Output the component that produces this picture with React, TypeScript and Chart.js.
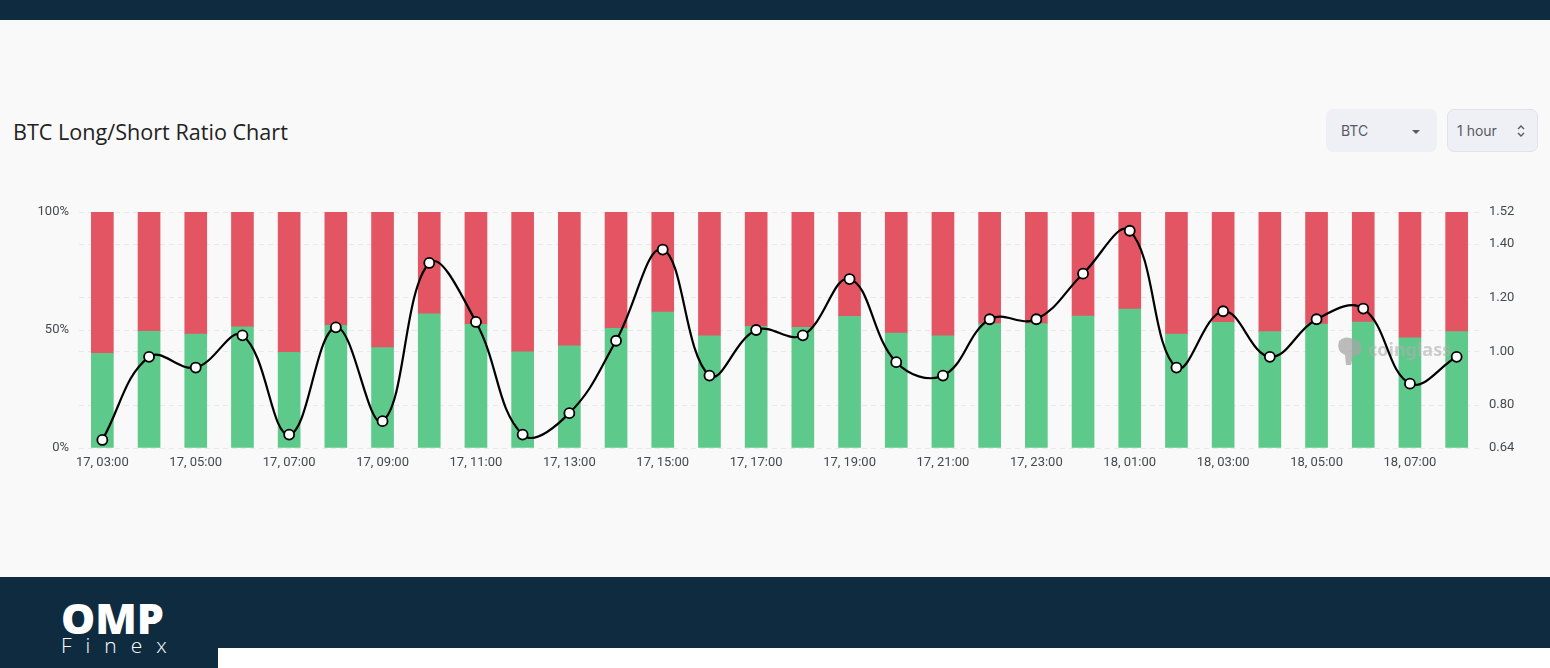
import React, { useEffect, useRef } from "react";
import { Chart, registerables } from "chart.js";

Chart.register(...registerables);

const labels = [
  "17, 03:00", "17, 04:00", "17, 05:00", "17, 06:00", "17, 07:00", "17, 08:00",
  "17, 09:00", "17, 10:00", "17, 11:00", "17, 12:00", "17, 13:00", "17, 14:00",
  "17, 15:00", "17, 16:00", "17, 17:00", "17, 18:00", "17, 19:00", "17, 20:00",
  "17, 21:00", "17, 22:00", "17, 23:00", "18, 00:00", "18, 01:00", "18, 02:00",
  "18, 03:00", "18, 04:00", "18, 05:00", "18, 06:00", "18, 07:00", "18, 08:00",
];

const longPct = [
  40.1, 49.4, 48.3, 51.3, 40.5, 52.0, 42.5, 56.8, 52.4, 40.8,
  43.3, 50.7, 57.6, 47.5, 51.6, 51.1, 55.8, 48.7, 47.5, 52.7,
  52.7, 55.9, 58.9, 48.3, 53.2, 49.3, 52.5, 53.4, 46.7, 49.3,
];

const shortPct = [
  59.9, 50.6, 51.7, 48.7, 59.5, 48.0, 57.5, 43.2, 47.6, 59.2,
  56.7, 49.3, 42.4, 52.5, 48.4, 48.9, 44.2, 51.3, 52.5, 47.3,
  47.3, 44.1, 41.1, 51.7, 46.8, 50.7, 47.5, 46.6, 53.3, 50.7,
];

const ratio = [
  0.67, 0.98, 0.94, 1.06, 0.69, 1.09, 0.74, 1.33, 1.11, 0.69,
  0.77, 1.04, 1.38, 0.91, 1.08, 1.06, 1.27, 0.96, 0.91, 1.12,
  1.12, 1.29, 1.45, 0.94, 1.15, 0.98, 1.12, 1.16, 0.88, 0.98,
];

const leftTicks = [0, 50, 100];
const rightTicks = [0.64, 0.8, 1.0, 1.2, 1.4, 1.52];

const GREEN = "#5dc98a";
const RED = "#e35562";
const GRID = "#e9e9e9";
const TICK = "#45494f";

const watermark = {
  id: "watermark",
  beforeDatasetDraw(chart: any, args: any) {
    if (args.index !== 0) return;
    const ctx = chart.ctx;
    const area = chart.chartArea;
    const x = area.right - 141;
    const y = area.top + 139;
    ctx.save();
    ctx.fillStyle = "rgba(165,165,165,0.75)";
    ctx.beginPath();
    ctx.moveTo(x, y - 10);
    ctx.quadraticCurveTo(x + 6, y - 16, x + 14, y - 12);
    ctx.quadraticCurveTo(x + 24, y - 10, x + 22, y);
    ctx.quadraticCurveTo(x + 20, y + 6, x + 14, y + 5);
    ctx.lineTo(x + 12, y + 14);
    ctx.lineTo(x + 7, y + 14);
    ctx.lineTo(x + 6, y + 4);
    ctx.quadraticCurveTo(x - 3, y, x, y - 10);
    ctx.closePath();
    ctx.fill();
    ctx.font = "bold 18px 'Noto Sans', sans-serif";
    ctx.textBaseline = "middle";
    ctx.fillStyle = "rgba(175,175,175,0.6)";
    ctx.fillText("coinglass", x + 29, y);
    ctx.restore();
  },
};

function ChartView() {
  const ref = useRef<HTMLCanvasElement | null>(null);
  useEffect(() => {
    if (!ref.current) return;
    const chart = new Chart(ref.current, {
      type: "bar",
      data: {
        labels,
        datasets: [
          {
            type: "line",
            label: "Long/Short Ratio",
            data: ratio,
            yAxisID: "y1",
            borderColor: "#000",
            borderWidth: 2.2,
            tension: 0.4,
            pointRadius: 5,
            pointBackgroundColor: "#fff",
            pointBorderColor: "#000",
            pointBorderWidth: 1.8,
            fill: false,
            clip: false,
          } as any,
          {
            type: "bar",
            label: "Long",
            data: longPct,
            yAxisID: "y",
            backgroundColor: GREEN,
            stack: "s",
            barThickness: 22,
          },
          {
            type: "bar",
            label: "Short",
            data: shortPct,
            yAxisID: "y",
            backgroundColor: RED,
            stack: "s",
            barThickness: 22,
          },
        ],
      },
      options: {
        animation: false,
        responsive: false,
        maintainAspectRatio: false,
        layout: { padding: { top: 21, left: 0, right: 0, bottom: 0 } },
        plugins: { legend: { display: false }, tooltip: { enabled: false } },
        scales: {
          x: {
            stacked: true,
            grid: { display: false, drawTicks: false },
            border: { display: false },
            ticks: {
              autoSkip: false,
              maxRotation: 0,
              padding: 7,
              color: TICK,
              font: { family: "Roboto", size: 13 },
              callback: (_v: any, i: number) => (i % 2 === 0 ? labels[i] : ""),
            },
            afterFit: (s: any) => {
              s.height = 38;
            },
          },
          y: {
            stacked: true,
            position: "left",
            min: 0,
            max: 100,
            grid: { color: GRID, drawTicks: false },
            border: { display: false, dash: [5, 4] },
            ticks: {
              padding: 10,
              color: TICK,
              font: { family: "Roboto", size: 13 },
              callback: (v: any) => v + "%",
            },
            afterBuildTicks: (s: any) => {
              s.ticks = leftTicks.map((v) => ({ value: v }));
            },
            afterFit: (s: any) => {
              s.width = 79;
            },
          },
          y1: {
            position: "right",
            min: 0.64,
            max: 1.52,
            grid: { color: GRID, drawTicks: false },
            border: { display: false, dash: [5, 4] },
            ticks: {
              padding: 9,
              color: TICK,
              font: { family: "Roboto", size: 13 },
              callback: (v: any) => Number(v).toFixed(2),
            },
            afterBuildTicks: (s: any) => {
              s.ticks = rightTicks.map((v) => ({ value: v }));
            },
            afterFit: (s: any) => {
              s.width = 70;
            },
          },
        },
      },
      plugins: [watermark],
    });
    return () => chart.destroy();
  }, []);
  return (
    <canvas
      ref={ref}
      width={1550}
      height={295}
      style={{ position: "absolute", left: 0, top: 191, width: 1550, height: 295 }}
    />
  );
}

export default function App() {
  const dark = "#0f2b40";
  return (
    <div
      style={{
        position: "absolute",
        left: 0,
        top: 0,
        width: 1550,
        height: 668,
        background: "#f9f9f9",
        overflow: "hidden",
        fontFamily: "'Noto Sans', sans-serif",
      }}
    >
      <div style={{ position: "absolute", left: 0, top: 0, width: 1550, height: 20, background: dark }} />
      <div
        style={{
          position: "absolute",
          left: 13,
          top: 117,
          fontSize: 21.6,
          fontWeight: 500,
          color: "#222",
          fontFamily: "'Open Sans', sans-serif",
          whiteSpace: "nowrap",
        }}
      >
        BTC Long/Short Ratio Chart
      </div>
      <div
        style={{
          position: "absolute",
          left: 1326,
          top: 109,
          width: 111,
          height: 43,
          background: "#eff0f5",
          borderRadius: 7,
        }}
      >
        <span
          style={{
            position: "absolute",
            left: 15,
            top: 13,
            fontSize: 14,
            color: "#555a66",
            fontFamily: "Inter, sans-serif",
          }}
        >
          BTC
        </span>
        <div
          style={{
            position: "absolute",
            left: 86,
            top: 21,
            width: 0,
            height: 0,
            borderLeft: "4px solid transparent",
            borderRight: "4px solid transparent",
            borderTop: "4px solid #555a66",
          }}
        />
      </div>
      <div
        style={{
          position: "absolute",
          left: 1447,
          top: 109,
          width: 89,
          height: 41,
          background: "#eff0f5",
          border: "1px solid #e2e3e8",
          borderRadius: 7,
        }}
      >
        <span
          style={{
            position: "absolute",
            left: 9,
            top: 12,
            fontSize: 14,
            color: "#555a66",
            fontFamily: "Inter, sans-serif",
          }}
        >
          1 hour
        </span>
        <svg style={{ position: "absolute", left: 68, top: 13 }} width="10" height="16" viewBox="0 0 10 16">
          <path d="M2 6 L5 3 L8 6" stroke="#555a66" strokeWidth="1.4" fill="none" />
          <path d="M2 10 L5 13 L8 10" stroke="#555a66" strokeWidth="1.4" fill="none" />
        </svg>
      </div>
      <ChartView />
      <div style={{ position: "absolute", left: 0, top: 577, width: 1550, height: 91, background: dark }} />
      <div style={{ position: "absolute", left: 218, top: 648, width: 1332, height: 20, background: "#ffffff" }} />
      <div
        style={{
          position: "absolute",
          left: 61,
          top: 590,
          fontSize: 43,
          fontWeight: 800,
          color: "#fff",
          fontFamily: "'Open Sans', sans-serif",
          lineHeight: "56px",
          letterSpacing: 0,
        }}
      >
        OMP
      </div>
      <div
        style={{
          position: "absolute",
          left: 61,
          top: 632,
          fontSize: 21,
          fontWeight: 300,
          color: "#fff",
          fontFamily: "'Open Sans', sans-serif",
          lineHeight: "26px",
          letterSpacing: 14,
        }}
      >
        Finex
      </div>
    </div>
  );
}
